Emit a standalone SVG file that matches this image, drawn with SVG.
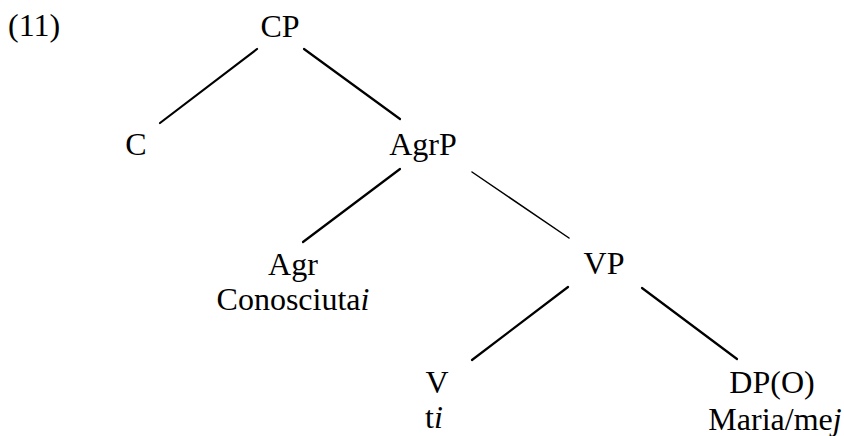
<svg xmlns="http://www.w3.org/2000/svg" width="844" height="436" viewBox="0 0 844 436">
<style>
text{font-family:"Liberation Serif","Times New Roman",serif;font-size:32px;fill:#000;text-anchor:middle}
.l{text-anchor:start}
line{stroke:#000;stroke-width:2.2;stroke-linecap:round}
.thin{stroke-width:1.5}
</style>
<rect width="844" height="436" fill="#fff"/>
<text class="l" x="8" y="36">(11)</text>
<g id="connectors">
<line x1="257" y1="49" x2="160" y2="123"/>
<line x1="304" y1="49" x2="400" y2="119"/>
<line x1="400" y1="169" x2="303" y2="242"/>
<line class="thin" x1="472" y1="172" x2="569" y2="238"/>
<line x1="568" y1="287" x2="472" y2="360"/>
<line x1="642" y1="288" x2="737" y2="359"/>
</g>
<g id="CP"><text x="280" y="37">CP</text></g>
<g id="C"><text x="136" y="155">C</text></g>
<g id="AgrP"><text x="423" y="155">AgrP</text></g>
<g id="Agr"><text x="293" y="275">Agr</text><text x="293" y="310">Conosciuta<tspan font-style="italic">i</tspan></text></g>
<g id="VP"><text x="604" y="274">VP</text></g>
<g id="V"><text x="437" y="393">V</text><text x="434" y="428">t<tspan font-style="italic">i</tspan></text></g>
<g id="DP"><text x="772" y="393">DP(O)</text><text x="775" y="430">Maria/me<tspan font-style="italic">j</tspan></text></g>
</svg>
